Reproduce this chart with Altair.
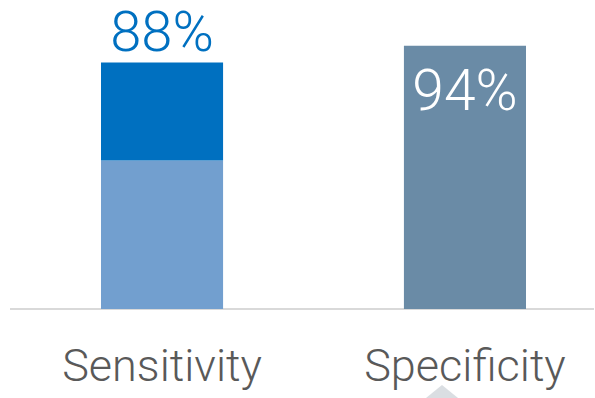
import altair as alt
import pandas as pd

# Bars (stacked for Sensitivity)
bar_category = ["Sensitivity", "Sensitivity", "Specificity"]
bar_part = ["lower", "upper", "total"]
bar_order = [0, 1, 0]
bar_value = [53, 35, 94]

# Value labels
label_category = ["Sensitivity", "Specificity"]
label_value = [88, 94]
label_text = ["88%", "94%"]
label_pos = ["above", "inside"]

part_domain = ["lower", "upper", "total"]
part_colors = ["#729fcf", "#0070c0", "#6a8ba6"]

FONT = "Roboto"

bars_df = pd.DataFrame({"category": bar_category, "part": bar_part,
                        "order": bar_order, "value": bar_value})
labels_df = pd.DataFrame({"category": label_category, "value": label_value,
                          "text": label_text, "pos": label_pos})

x_scale = alt.Scale(type="band", range=[91, 516], paddingInner=0.597, paddingOuter=0)
x_enc = alt.X("category:N", sort=label_category, title=None, scale=x_scale,
              axis=alt.Axis(labelAngle=0, labelFont=FONT, labelFontWeight=300,
                            labelFontSize=45, labelColor="#595959", ticks=False,
                            tickSize=0, labelPadding=71, labelBaseline="alphabetic",
                            labelLimit=0, labelOverlap=False, domain=False, grid=False))
y_scale = alt.Scale(domain=[0, 100], nice=False, zero=True)

baseline = alt.Chart(pd.DataFrame({"k": [0]})).mark_rule(
    color="#d9d9d9", strokeWidth=2
).encode(y=alt.Y(datum=0, scale=y_scale, axis=None), x=alt.value(0), x2=alt.value(584))

bars = alt.Chart(bars_df).mark_bar().encode(
    x=x_enc,
    y=alt.Y("sum(value):Q", stack="zero", scale=y_scale, axis=None),
    color=alt.Color("part:N", scale=alt.Scale(domain=part_domain, range=part_colors), legend=None),
    order=alt.Order("order:Q", sort="ascending"),
)

above = alt.Chart(labels_df).transform_filter(alt.datum.pos == "above").mark_text(
    font=FONT, fontWeight=300, fontSize=56, color="#0070c0", baseline="alphabetic", dy=-12
).encode(x=alt.X("category:N", sort=label_category), y=alt.Y("value:Q", scale=y_scale), text="text:N")

inside = alt.Chart(labels_df).transform_filter(alt.datum.pos == "inside").mark_text(
    font=FONT, fontWeight=300, fontSize=57, color="#ffffff", baseline="alphabetic", dy=64
).encode(x=alt.X("category:N", sort=label_category), y=alt.Y("value:Q", scale=y_scale), text="text:N")

tri = alt.Chart(pd.DataFrame({"k": [0]})).mark_point(
    shape="M0,0L1.23,1L-1.23,1Z", filled=True, color="#dadee2", opacity=1, size=1600
).encode(x=alt.value(432), y=alt.value(356))

chart = alt.layer(tri, baseline, bars, above, inside).properties(
    width=584, height=280,
    autosize=alt.AutoSizeParams(type="none"),
    padding={"left": 10, "top": 29, "right": 1, "bottom": 89},
).configure_view(stroke=None)

chart.save("out.html", embed_options={"renderer": "svg", "actions": False})
